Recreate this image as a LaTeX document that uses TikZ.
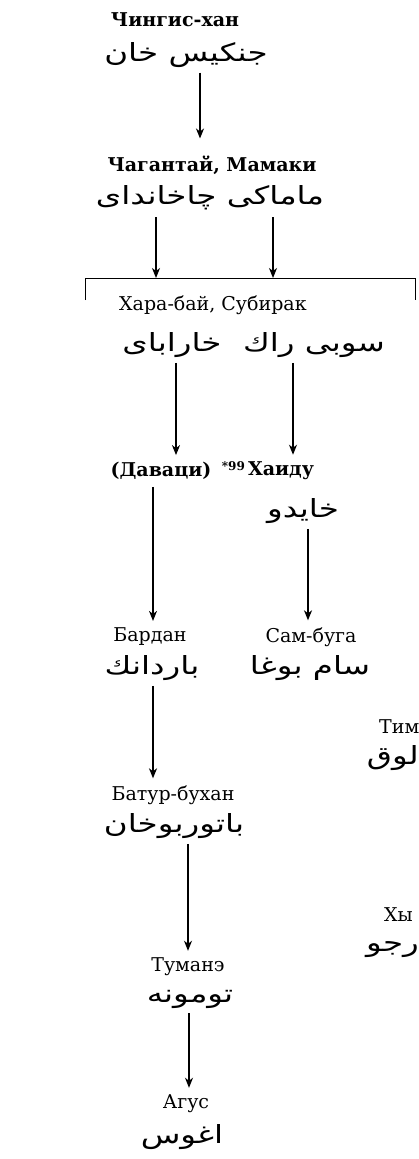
\documentclass[tikz,border=0pt]{standalone}
\usepackage{fontspec}
\setmainfont{DejaVu Serif}
\newfontfamily\arabicfont[Script=Arabic]{DejaVu Sans}
\TeXXeTstate=1
\usetikzlibrary{arrows.meta, positioning}
\tikzstyle{cyr} = [inner sep=1pt, font=\fontsize{19}{22}\selectfont]
\tikzstyle{cyrbold} = [inner sep=1pt, font=\fontsize{19}{22}\selectfont\bfseries]
\tikzstyle{arab} = [inner sep=1pt, font=\fontsize{25}{30}\selectfont\arabicfont]
\tikzstyle{arrow} = [line width=1.2pt, -{Stealth[length=10pt, width=8pt, inset=3pt]}]
\newcommand{\artext}[1]{\scalebox{1.3}[1]{\beginR #1\endR}}

\begin{document}
\begin{tikzpicture}[x=1pt, y=-1pt]
\useasboundingbox (0,0) rectangle (418,1159);

% columns of the connectors
\coordinate (c1) at (200,0);
\coordinate (c2) at (156,0);
\coordinate (c3) at (273,0);
\coordinate (c4) at (176,0);
\coordinate (c5) at (293,0);
\coordinate (c6) at (153,0);
\coordinate (c7) at (308,0);
\coordinate (c8) at (188,0);
\coordinate (c9) at (189,0);

\node (chingis) [cyrbold] at (175,20) {Чингис-хан};
\node (chingisar) [arab] at (186,55) {\artext{جنكيس خان}};

\node (chagatai) [cyrbold] at (212,165) {Чагантай, Мамаки};
\node (chagataiar) [arab] at (210,198) {\artext{ماماكى چاخانداى}};

% bracket
\coordinate (brl) at (85,278);
\coordinate (brr) at (415,278);
\draw [line width=1pt] ([yshift=-22pt]brl) -- (brl) -- (brr) -- ([yshift=-22pt]brr);

\node (kharabai) [cyr, anchor=west] at (118,305) {Хара-бай, Субирак};
\node (kharabaiar) [arab] at (172,345) {\artext{خارابای}};
\node (subirakar) [arab] at (314,345) {\artext{سوبى راك}};

\node (davatsi) [cyrbold] at (161,471) {(Даваци)};
\node (khaidu) [cyrbold] at (268,471) {{\fontsize{12}{13}\selectfont\raisebox{5pt}{*99}}\,Хаиду};
\node (khaiduar) [arab] at (303,511) {\artext{خايدو}};

\node (bardan) [cyr] at (150,637) {Бардан};
\node (sambuga) [cyr] at (311,637) {Сам-буга};
\node (bardanar) [arab] at (152,668) {\artext{باردانك}};
\node (sambugaar) [arab] at (310,668) {\artext{سام بوغا}};

\node (tim) [cyr, anchor=west] at (378,727) {Тим};
\node (timar) [arab, anchor=east] at (420,758) {\artext{لوق}};

\node (batur) [cyr] at (173,795) {Батур-бухан};
\node (baturar) [arab] at (174,826) {\artext{باتوربوخان}};

\node (khy) [cyr, anchor=west] at (383,915) {Хы};
\node (khyar) [arab, anchor=east] at (420,950) {\artext{رجو}};

\node (tumane) [cyr] at (188,967) {Туманэ};
\node (tumanear) [arab] at (190,999) {\artext{تومونه}};

\node (agus) [cyr] at (186,1104) {Агус};
\node (agusar) [arab] at (182,1137) {\artext{اغوس}};

% connectors
\draw [arrow, shorten <=4pt, shorten >=16pt] (chingisar.south -| c1) -- (chagatai.north -| c1);
\draw [arrow, shorten <=6pt] (chagataiar.south -| c2) -- (brl -| c2);
\draw [arrow, shorten <=6pt] (chagataiar.south -| c3) -- (brl -| c3);
\draw [arrow, shorten <=4pt, shorten >=6pt] (kharabaiar.south -| c4) -- (davatsi.north -| c4);
\draw [arrow, shorten <=4pt, shorten >=6pt] (subirakar.south -| c5) -- (khaidu.north -| c5);
\draw [arrow, shorten <=6pt, shorten >=6pt] (davatsi.south -| c6) -- (bardan.north -| c6);
\draw [arrow, shorten <=4pt, shorten >=6pt] (khaiduar.south -| c7) -- (sambuga.north -| c7);
\draw [arrow, shorten <=4pt, shorten >=6pt] (bardanar.south -| c6) -- (batur.north -| c6);
\draw [arrow, shorten <=4pt, shorten >=6pt] (baturar.south -| c8) -- (tumane.north -| c8);
\draw [arrow, shorten <=4pt, shorten >=6pt] (tumanear.south -| c9) -- (agus.north -| c9);

\end{tikzpicture}
\end{document}
